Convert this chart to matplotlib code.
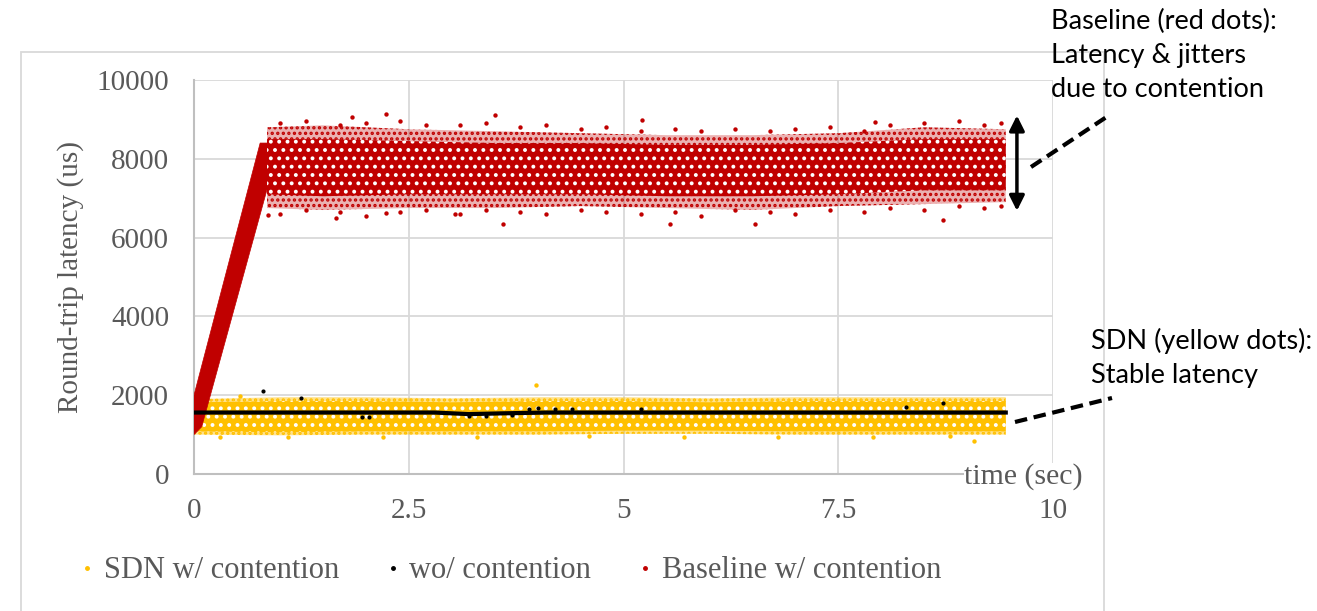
import matplotlib
matplotlib.use("Agg")
import matplotlib.pyplot as plt
from matplotlib.lines import Line2D
from matplotlib.patches import Rectangle

# ---------------- data ----------------
# Baseline w/ contention: plateau envelope (outer scatter limits and dense core)
red_t       = [0.85, 1.5, 2.5, 3.5, 4.5, 5.5, 6.5, 7.5, 8.5, 9.45]
red_hi      = [8800, 8850, 8750, 8700, 8650, 8600, 8600, 8650, 8800, 8750]
red_lo      = [6750, 6700, 6750, 6750, 6800, 6750, 6700, 6800, 6850, 6900]
red_core_hi = [8500, 8500, 8450, 8400, 8400, 8350, 8350, 8400, 8500, 8500]
red_core_lo = [7100, 7050, 7100, 7100, 7100, 7050, 7050, 7100, 7200, 7200]
# Baseline start-up ramp (polygon outline)
ramp_t = [0.0, 0.0, 0.77, 0.86, 0.86, 0.09]
ramp_v = [1000, 2000, 8400, 8400, 7300, 1200]
# Baseline isolated points (outliers and ragged edges)
red_out_t = [1.84, 2.23, 3.50, 5.22, 7.93, 0.86, 1.65, 2.24, 3.04, 3.60, 5.54, 6.53, 8.72]
red_out_v = [9060, 9140, 9100, 8980, 8940, 6580, 6500, 6630, 6600, 6350, 6350, 6350, 6450]
red_edge_t = [1.0, 1.3, 1.7, 2.0, 2.4, 2.7, 3.1, 3.4, 3.8, 4.1, 4.5, 4.8, 5.2,
              5.6, 5.9, 6.3, 6.7, 7.0, 7.4, 7.8, 8.1, 8.5, 8.9, 9.2, 9.4]
red_top_v  = [8900, 8950, 8850, 8900, 8950, 8850, 8850, 8900, 8800, 8850, 8750, 8800, 8700,
              8750, 8700, 8750, 8700, 8750, 8800, 8700, 8850, 8900, 8950, 8850, 8900]
red_bot_v  = [6600, 6700, 6650, 6550, 6650, 6700, 6600, 6700, 6650, 6600, 6700, 6650, 6600,
              6650, 6550, 6700, 6650, 6600, 6700, 6650, 6750, 6700, 6800, 6750, 6800]

# SDN w/ contention: band envelope
yel_t       = [0.0, 1.0, 2.0, 3.0, 4.0, 5.0, 6.0, 7.0, 8.0, 9.45]
yel_hi      = [1900, 1950, 1950, 1920, 1950, 1950, 1920, 1950, 1950, 1950]
yel_lo      = [1000, 980, 1000, 1000, 1000, 1020, 1020, 1000, 1000, 1000]
yel_core_hi = [1820, 1850, 1850, 1820, 1850, 1850, 1820, 1850, 1850, 1850]
yel_core_lo = [1080, 1060, 1080, 1080, 1080, 1100, 1100, 1080, 1080, 1080]
yel_out_t = [0.54, 3.98, 9.08, 0.3, 1.1, 2.2, 3.3, 4.6, 5.7, 6.8, 7.9, 8.8]
yel_out_v = [1970, 2250, 840, 940, 930, 950, 940, 960, 950, 940, 950, 960]

# wo/ contention: steady latency
blk_t = [0.0, 2.8, 3.2, 3.6, 4.1, 9.45]
blk_v = [1560, 1560, 1520, 1540, 1560, 1560]
blk_out_t = [0.80, 1.24, 1.96, 2.04, 3.2, 3.4, 3.7, 3.9, 4.0, 4.2, 4.4, 5.2, 8.29, 8.72]
blk_out_v = [2100, 1920, 1450, 1450, 1480, 1470, 1500, 1660, 1680, 1660, 1650, 1640, 1700, 1800]

xticks = [0, 2.5, 5, 7.5, 10]
xtick_labels = ["0", "2.5", "5", "7.5", "10"]
yticks = [0, 2000, 4000, 6000, 8000, 10000]
series_names = ["SDN w/ contention", "wo/ contention", "Baseline w/ contention"]

RED = "#C00000"
YEL = "#FFC000"
TXT = "#595959"
GRID = "#D9D9D9"
SERIF = ["Liberation Serif", "DejaVu Serif"]
SANS = ["Lato", "DejaVu Sans"]

plt.rcParams["hatch.linewidth"] = 1.6

fig = plt.figure(figsize=(13.17, 6.11), dpi=100)
W, H = 1317, 611
ax = fig.add_axes([194 / W, 1 - 474 / H, (1053 - 194) / W, (474 - 80) / H])

# outer chart frame
fig.patches.append(Rectangle((21 / W, -0.05), (1104 - 21) / W, (1 - 52 / H) + 0.05,
                             transform=fig.transFigure, fill=False,
                             edgecolor=GRID, linewidth=1.3, zorder=0))

# --- SDN (yellow) ---
ax.fill_between(yel_t, yel_lo, yel_hi, facecolor=YEL, alpha=0.45, lw=0, zorder=2)
ax.fill_between(yel_t, yel_lo, yel_hi, facecolor="none", edgecolor=YEL, hatch="...", lw=0, zorder=2)
ax.fill_between(yel_t, yel_core_lo, yel_core_hi, facecolor=YEL, edgecolor="white",
                hatch="..", lw=0, zorder=2)
ax.scatter(yel_out_t, yel_out_v, s=10, color=YEL, lw=0, zorder=3)

# --- Baseline (red) ---
ax.fill(ramp_t, ramp_v, facecolor=RED, edgecolor=RED, lw=0.5, zorder=3)
ax.fill_between(red_t, red_lo, red_hi, facecolor=RED, alpha=0.3, lw=0, zorder=3)
ax.fill_between(red_t, red_lo, red_hi, facecolor="none", edgecolor=RED, hatch="...", lw=0, zorder=3)
ax.fill_between(red_t, red_core_lo, red_core_hi, facecolor=RED, edgecolor="white",
                hatch="..", lw=0, zorder=3)
ax.scatter(red_out_t, red_out_v, s=10, color=RED, lw=0, zorder=3)
ax.scatter(red_edge_t, red_top_v, s=10, color=RED, lw=0, zorder=3)
ax.scatter(red_edge_t, red_bot_v, s=10, color=RED, lw=0, zorder=3)

# --- wo/ contention (black) ---
ax.plot(blk_t, blk_v, color="black", lw=3, zorder=4)
ax.scatter(blk_out_t, blk_out_v, s=9, color="black", lw=0, zorder=4)

# axes styling
ax.set_xlim(0, 10)
ax.set_ylim(0, 10000)
ax.set_xticks(xticks)
ax.set_xticklabels(xtick_labels)
ax.set_yticks(yticks)
ax.set_yticklabels([str(v) for v in yticks])
ax.grid(True, color=GRID, lw=1.3, zorder=0)
ax.set_axisbelow(True)
for side in ["top", "right"]:
    ax.spines[side].set_visible(False)
for side in ["left", "bottom"]:
    ax.spines[side].set_color("#BFBFBF")
    ax.spines[side].set_linewidth(1.5)
ax.tick_params(length=0, labelsize=21, labelcolor=TXT)
ax.tick_params(axis="x", pad=17.5)
ax.tick_params(axis="y", pad=18)
for lab in ax.get_xticklabels() + ax.get_yticklabels():
    lab.set_fontfamily(SERIF)
ax.set_ylabel("Round-trip latency (us)", fontsize=21, color=TXT, family=SERIF, labelpad=9)

ax.text(9.66, -60, "time (sec)", fontsize=21.5, color=TXT, family=SERIF, ha="center", va="center",
        bbox=dict(facecolor="white", edgecolor="none", pad=0), zorder=5)

# legend
handles = [Line2D([], [], ls="none", marker="o", ms=2.5, color=YEL),
           Line2D([], [], ls="none", marker="o", ms=2.5, color="black"),
           Line2D([], [], ls="none", marker="o", ms=2.5, color=RED)]
fig.legend(handles, series_names,
           loc="center left", bbox_to_anchor=(81 / W, 1 - 571 / H), ncol=3, frameon=False,
           prop={"family": SERIF, "size": 22}, labelcolor=TXT,
           handlelength=0.4, handletextpad=0.35, columnspacing=1.55, borderpad=0, borderaxespad=0)

# annotations
ax.annotate("", xy=(9.58, 6680), xytext=(9.58, 9100),
            arrowprops=dict(arrowstyle="<|-|>,head_length=0.9,head_width=0.45",
                            color="black", lw=2.5, shrinkA=0, shrinkB=0),
            annotation_clip=False)
fig.add_artist(Line2D([1031 / W, 1108 / W], [1 - 167 / H, 1 - 116 / H], transform=fig.transFigure,
                      color="black", lw=3, ls=(0, (3, 1.6))))
fig.add_artist(Line2D([1015 / W, 1112 / W], [1 - 422 / H, 1 - 398 / H], transform=fig.transFigure,
                      color="black", lw=3, ls=(0, (3, 1.6))))
fig.text(1051 / W, 1 - 9 / H, "Baseline (red dots):\nLatency & jitters\ndue to contention",
         fontsize=19.5, family=SANS, color="black", ha="left", va="top", linespacing=1.45)
fig.text(1091 / W, 1 - 328 / H, "SDN (yellow dots):\nStable latency",
         fontsize=19.5, family=SANS, color="black", ha="left", va="top", linespacing=1.45)

fig.savefig("out.png", dpi=100)
